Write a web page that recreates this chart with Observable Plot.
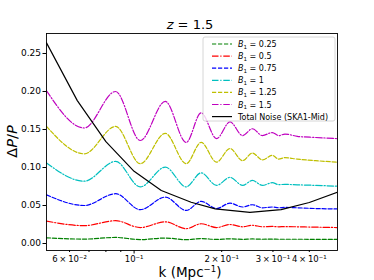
<!DOCTYPE html>
<html><head><meta charset="utf-8">
<script src="https://cdn.jsdelivr.net/npm/d3@7"></script>
<script src="https://cdn.jsdelivr.net/npm/@observablehq/plot@0.6"></script>
<style>body{margin:0;background:#fff} #chart svg{font-family:"DejaVu Sans",sans-serif;overflow:visible}</style>
</head><body><div id="chart"></div>
<script>
// wavenumbers (Mpc^-1) at which the B1 curves were read
const kWig = [0.05, 0.0674, 0.0864, 0.105, 0.128, 0.151, 0.17, 0.192, 0.2136, 0.236, 0.255, 0.276, 0.2985, 0.314, 0.33, 0.364, 0.42, 0.5];
const b1Labels = ["0.25", "0.5", "0.75", "1", "1.25", "1.5"];
const dpB025 = [0.0075, 0.0058, 0.008, 0.0052, 0.0072, 0.0050, 0.0065, 0.0054, 0.0062, 0.0055, 0.006, 0.0056, 0.0057, 0.0056, 0.0056, 0.0056, 0.0055, 0.0054];
const dpB050 = [0.0295, 0.0235, 0.030, 0.021, 0.0285, 0.0195, 0.026, 0.021, 0.025, 0.022, 0.024, 0.022, 0.0225, 0.022, 0.0222, 0.022, 0.0215, 0.021];
const dpB075 = [0.064, 0.050, 0.0655, 0.0445, 0.061, 0.0435, 0.0555, 0.046, 0.053, 0.048, 0.051, 0.047, 0.048, 0.047, 0.0475, 0.047, 0.046, 0.0455];
const dpB100 = [0.106, 0.082, 0.108, 0.0745, 0.1005, 0.0745, 0.093, 0.0765, 0.087, 0.0765, 0.083, 0.0765, 0.080, 0.0775, 0.0778, 0.0772, 0.0765, 0.0754];
const dpB125 = [0.154, 0.118, 0.154, 0.105, 0.145, 0.105, 0.133, 0.107, 0.125, 0.109, 0.119, 0.110, 0.116, 0.111, 0.113, 0.111, 0.109, 0.107];
const dpB150 = [0.201, 0.152, 0.200, 0.1355, 0.187, 0.133, 0.172, 0.138, 0.160, 0.142, 0.151, 0.142, 0.146, 0.142, 0.144, 0.141, 0.1395, 0.138];
// total noise
const kNoise = [0.05, 0.0638, 0.08, 0.1, 0.124, 0.157, 0.19, 0.25, 0.32, 0.4, 0.5];
const noiseVals = [0.264, 0.188, 0.134, 0.095, 0.0697, 0.0543, 0.0455, 0.041, 0.0445, 0.054, 0.0675];
const noiseLabel = "Total Noise (SKA1-Mid)";
// axis ticks
const yTicks = [0, 0.05, 0.10, 0.15, 0.20, 0.25];
const xLabelTicks = [0.06, 0.1, 0.2, 0.3, 0.4];
const xLabelTexts = ["6\u2009×\u200910⁻²", "10⁻¹", "2\u2009×\u200910⁻¹", "3\u2009×\u200910⁻¹", "4\u2009×\u200910⁻¹"];
const xMinorTicks = [0.06, 0.07, 0.08, 0.09, 0.2, 0.3, 0.4];
const xMajorTicks = [0.1];

const allVals = [dpB025, dpB050, dpB075, dpB100, dpB125, dpB150];
const styles = [
  {color: "#008000", dash: "4.2,1.8"},
  {color: "#ff0000", dash: "6.5,1.8,1.2,1.8"},
  {color: "#0000ff", dash: "4.2,1.8"},
  {color: "#00bfbf", dash: "6.5,1.8,1.2,1.8"},
  {color: "#bfbf00", dash: "4.2,1.8"},
  {color: "#bf00bf", dash: "6.5,1.8,1.2,1.8"}
];
const series = b1Labels.map((lab, i) => ({label: lab, rows: kWig.map((k, j) => ({k, v: allVals[i][j]})), ...styles[i]}));
const noiseRows = kNoise.map((k, j) => ({k, v: noiseVals[j]}));

const W = 374, H = 280;
const M = {top: 33, right: 37, bottom: 30, left: 46};
const fmtX = new Map(xLabelTicks.map((t, i) => [t, xLabelTexts[i]]));

const plot = Plot.plot({
  width: W, height: H,
  marginTop: M.top, marginRight: M.right, marginBottom: M.bottom, marginLeft: M.left,
  style: {fontFamily: "DejaVu Sans, sans-serif", background: "white", color: "black"},
  x: {type: "log", domain: [0.05, 0.5]},
  y: {domain: [-0.0092, 0.2763]},
  marks: [
    ...series.map(s => Plot.line(s.rows, {x: "k", y: "v", stroke: s.color, strokeWidth: 1.2, strokeDasharray: s.dash, curve: "monotone-x", clip: true})),
    Plot.line(noiseRows, {x: "k", y: "v", stroke: "black", strokeWidth: 1.2, clip: true}),
    Plot.frame({stroke: "black", strokeWidth: 0.9}),
    Plot.axisY({ticks: yTicks, tickFormat: d3.format(".2f"), tickSize: 3.5, tickPadding: 2, fontSize: 9, label: null}),
    Plot.axisX({ticks: xMajorTicks, tickSize: 3.5, tickFormat: () => "", label: null}),
    Plot.axisX({ticks: xMinorTicks, tickSize: 2, tickFormat: () => "", label: null}),
    Plot.axisX({ticks: xLabelTicks, tickSize: 0, tickPadding: 5, tickFormat: d => fmtX.get(d), fontSize: 8.5, label: null})
  ]
});
document.getElementById("chart").append(plot);

const svg = d3.select(plot);
// title
const t = svg.append("text").attr("x", 190).attr("y", 29)
  .attr("text-anchor", "middle").attr("font-size", 13).attr("fill", "black");
t.append("tspan").attr("font-style", "italic").text("z");
t.append("tspan").text(" = 1.5");
// x label
const xl = svg.append("text").attr("x", 190).attr("y", 277)
  .attr("text-anchor", "middle").attr("font-size", 13.5).attr("fill", "black");
xl.append("tspan").text("k (Mpc");
xl.append("tspan").attr("font-size", 8.5).attr("dy", -5).text("−1");
xl.append("tspan").attr("dy", 5).text(")");
// y label
const yl = svg.append("text").attr("transform", `translate(17,${(M.top + H - M.bottom) / 2}) rotate(-90)`)
  .attr("text-anchor", "middle").attr("font-size", 14.5).attr("fill", "black");
yl.append("tspan").text("Δ");
yl.append("tspan").attr("font-style", "italic").text("P");
yl.append("tspan").text("/");
yl.append("tspan").attr("font-style", "italic").text("P");

// legend
const lg = svg.append("g").attr("text-anchor", "start");
lg.append("rect").attr("x", 203).attr("y", 37).attr("width", 132).attr("height", 84)
  .attr("rx", 2).attr("fill", "white").attr("fill-opacity", 0.8).attr("stroke", "#cccccc").attr("stroke-width", 0.8);
const entries = series.map(s => ({color: s.color, dash: s.dash, b1: s.label})).concat([{color: "black", dash: null, text: noiseLabel}]);
entries.forEach((e, i) => {
  const y = 44 + i * 12.1;
  lg.append("line").attr("x1", 212).attr("x2", 232).attr("y1", y).attr("y2", y)
    .attr("stroke", e.color).attr("stroke-width", 1.2).attr("stroke-dasharray", e.dash);
  const tx = lg.append("text").attr("x", 238).attr("y", y + 3).attr("font-size", 8)
    .attr("fill", "black").attr("text-anchor", "start");
  if (e.b1) {
    tx.append("tspan").attr("font-style", "italic").text("B");
    tx.append("tspan").attr("font-size", 5.6).attr("dy", 1.8).text("1");
    tx.append("tspan").attr("dy", -1.8).text(" = " + e.b1);
  } else tx.text(e.text);
});
</script></body></html>
